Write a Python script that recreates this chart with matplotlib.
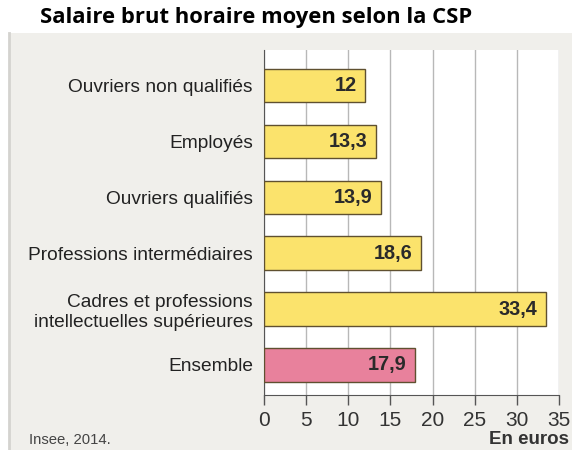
import matplotlib.pyplot as plt
from matplotlib.patches import Rectangle

categories = ["Ouvriers non qualifiés", "Employés", "Ouvriers qualifiés",
              "Professions intermédiaires",
              "Cadres et professions\nintellectuelles supérieures", "Ensemble"]
values = [12, 13.3, 13.9, 18.6, 33.4, 17.9]
value_labels = ["12", "13,3", "13,9", "18,6", "33,4", "17,9"]
colors = ["#fbe36c"] * 5 + ["#e8819c"]
xticks = [0, 5, 10, 15, 20, 25, 30, 35]

plt.rcParams['font.family'] = ['Liberation Sans', 'DejaVu Sans']

fig = plt.figure(figsize=(5.72, 4.5), dpi=100)
fig.patch.set_facecolor("white")

# gray panel behind the chart
panel = Rectangle((10 / 572, 0), 1, 1 - 33 / 450, transform=fig.transFigure,
                  facecolor="#f0efeb", edgecolor="none", zorder=-2)
fig.patches.append(panel)
fig.add_artist(plt.Line2D([9 / 572, 9 / 572], [0, 1 - 33 / 450], transform=fig.transFigure,
                          color="#d4d3cf", lw=2, zorder=-1))

ax = fig.add_axes([264 / 572, 1 - 395 / 450, 295 / 572, 345 / 450])
ax.set_zorder(1)
ax.set_facecolor("white")

pos = list(range(len(categories)))
ax.barh(pos, values, height=0.6, color=colors, edgecolor="#5f5030", linewidth=1, zorder=3)

for p, v, lab in zip(pos, values, value_labels):
    ax.annotate(lab, (v, p), xytext=(-6, 0), textcoords="offset points",
                ha="right", va="center", fontsize=14.3, fontweight="bold",
                color="#2a2a2a", zorder=4)

ax.set_xlim(0, 35)
ax.set_ylim(5.54, -0.64)
ax.set_xticks(xticks)
ax.set_xticklabels([str(t) for t in xticks], fontsize=15, color="#333333")
ax.set_yticks(pos)
ax.set_yticklabels(categories, fontsize=13.8, color="#222222")
ax.tick_params(axis="y", length=0, pad=8)
ax.tick_params(axis="x", length=7.5, width=1, color="#555555", pad=4)

ax.grid(axis="x", color="#b8b8b8", linewidth=1, zorder=1)
for s in ["top", "right"]:
    ax.spines[s].set_visible(False)
ax.spines["left"].set_color("#555555")
ax.spines["bottom"].set_color("#555555")

fig.text(40 / 572, 1 - 18 / 450, "Salaire brut horaire moyen selon la CSP",
         fontsize=15.8, fontweight="bold", family=["Open Sans", "DejaVu Sans"],
         va="center", ha="left", color="black")
fig.text(29 / 572, 1 - 440 / 450, "Insee, 2014.", fontsize=10.7, color="#444444",
         va="center", ha="left")
fig.text(569 / 572, 1 - 440 / 450, "En euros", fontsize=13.5, fontweight="bold",
         color="#333333", va="center", ha="right")

fig.savefig("out.png", dpi=100)
